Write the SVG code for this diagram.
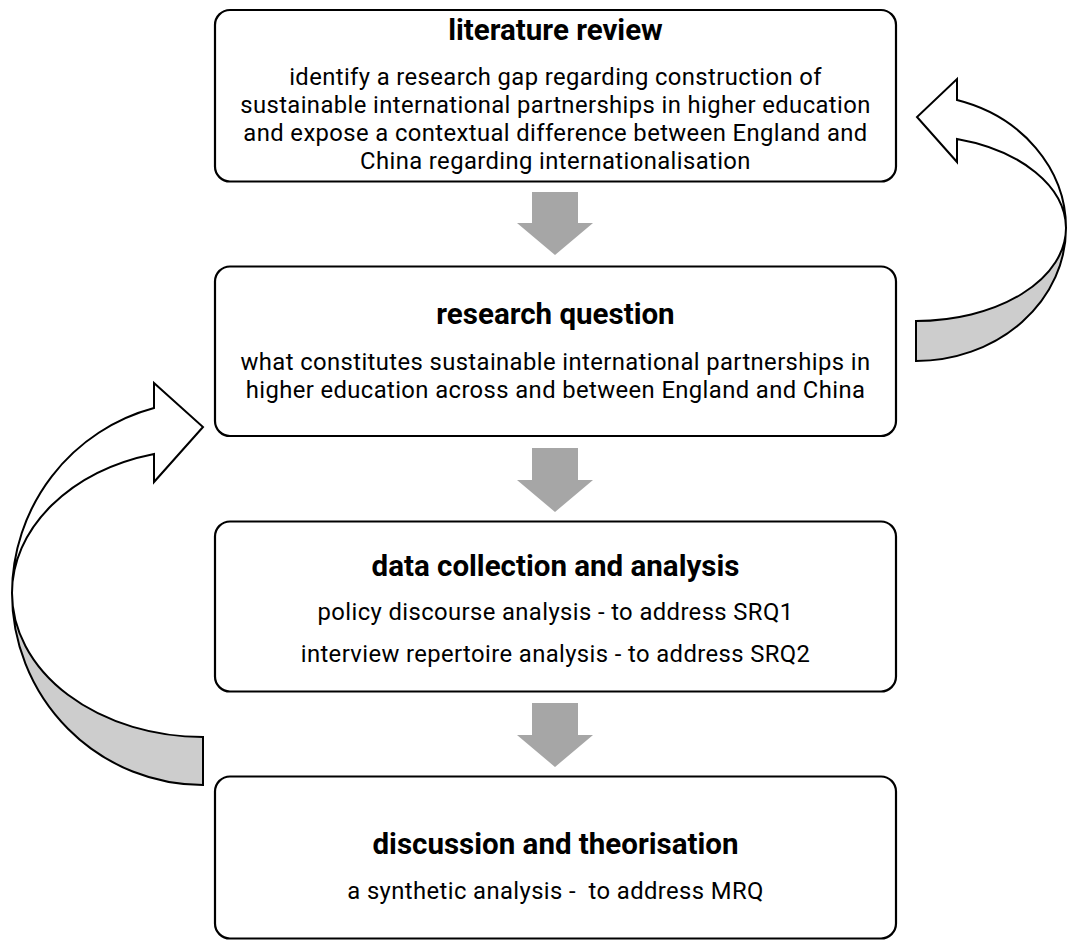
<svg xmlns="http://www.w3.org/2000/svg" width="1067" height="943" viewBox="0 0 1067 943">
<style>
.box{fill:#fff;stroke:#000;stroke-width:2.2}
.t{font-family:Roboto,"Liberation Sans",sans-serif;font-weight:700;font-size:29.5px;fill:#000;text-anchor:middle}
.b{font-family:Roboto,"Liberation Sans",sans-serif;font-size:23.8px;letter-spacing:0.4px;fill:#000;text-anchor:middle}
.down{fill:#a6a6a6;stroke:none}
.cw{fill:#fff;stroke:#000;stroke-width:2;stroke-linejoin:miter}
.cg{fill:#cdcdcd;stroke:#000;stroke-width:2;stroke-linejoin:miter}
</style>
<rect width="1067" height="943" fill="#fff"/>
<g id="connectors">
  <polygon class="down" points="532,192 578,192 578,223 593,223 555,255 517,223 532,223"/>
  <polygon class="down" points="532,448 578,448 578,480 593,480 555,512 517,480 532,480"/>
  <polygon class="down" points="532,703 578,703 578,735 593,735 555,767 517,735 532,735"/>
  <g id="loop-right">
    <path class="cg" d="M916,361 A150,133 0 0 0 1066,228 A150,93 0 0 1 916,321 Z"/>
    <path class="cw" d="M1066,228 A150,133 0 0 0 957,100 L957,79 L917,117 L957,162 L957,139 A150,93 0 0 1 1066,228 Z"/>
  </g>
  <g id="loop-left">
    <path class="cg" d="M203,785 A191,192 0 0 1 12,593 A191,144 0 0 0 203,737 Z"/>
    <path class="cw" d="M12,593 A191,192 0 0 1 154,408 L154,383 L203,427 L154,482 L154,454 A191,144 0 0 0 12,593 Z"/>
  </g>
</g>
<g id="literature-review">
  <rect class="box" x="215" y="10" width="681" height="171.5" rx="15"/>
  <text class="t" x="555.5" y="40">literature review</text>
  <text class="b" x="555.5" y="85">identify a research gap regarding construction of</text>
  <text class="b" x="555.5" y="113">sustainable international partnerships in higher education</text>
  <text class="b" x="555.5" y="141">and expose a contextual difference between England and</text>
  <text class="b" x="555.5" y="169">China regarding internationalisation</text>
</g>
<g id="research-question">
  <rect class="box" x="215" y="266.5" width="681" height="169.5" rx="15"/>
  <text class="t" x="555.5" y="324">research question</text>
  <text class="b" x="555.5" y="370">what constitutes sustainable international partnerships in</text>
  <text class="b" x="555.5" y="398">higher education across and between England and China</text>
</g>
<g id="data-collection">
  <rect class="box" x="215" y="521.5" width="681" height="170" rx="15"/>
  <text class="t" x="555.5" y="576">data collection and analysis</text>
  <text class="b" x="555.5" y="620">policy discourse analysis - to address SRQ1</text>
  <text class="b" x="555.5" y="662">interview repertoire analysis - to address SRQ2</text>
</g>
<g id="discussion">
  <rect class="box" x="215" y="776.5" width="681" height="162" rx="15"/>
  <text class="t" x="555.5" y="854">discussion and theorisation</text>
  <text class="b" x="555.5" y="899" xml:space="preserve">a synthetic analysis -  to address MRQ</text>
</g>
</svg>
